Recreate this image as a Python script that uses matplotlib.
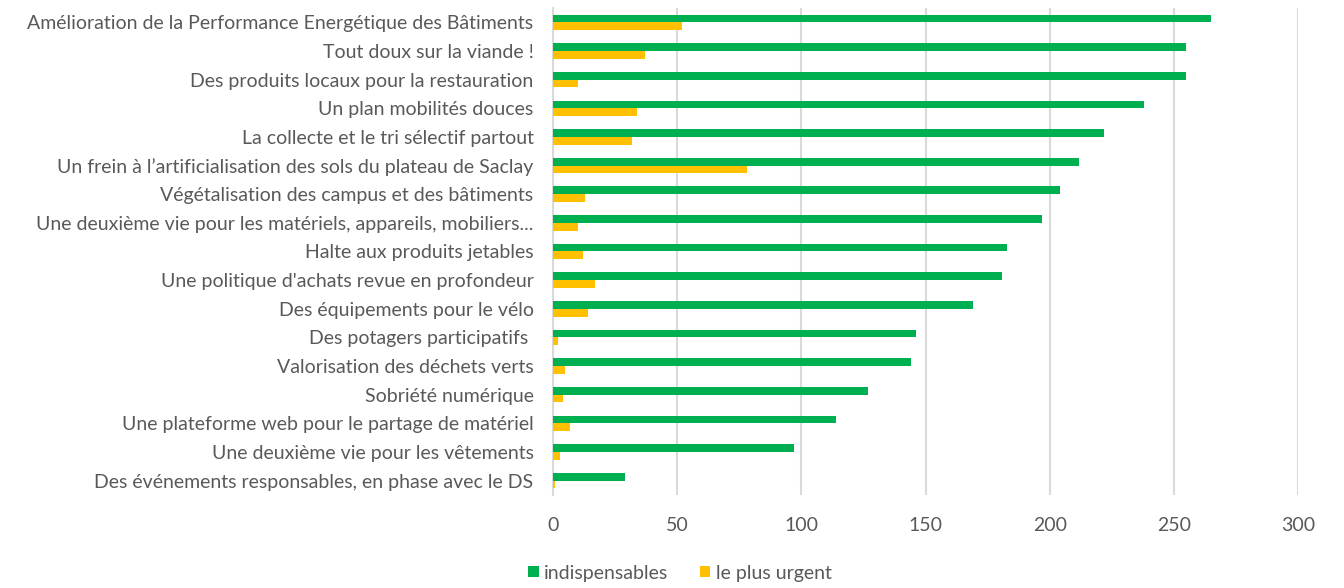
import numpy as np
import matplotlib.pyplot as plt

categories = [
    "Amélioration de la Performance Energétique des Bâtiments",
    "Tout doux sur la viande !",
    "Des produits locaux pour la restauration",
    "Un plan mobilités douces",
    "La collecte et le tri sélectif partout",
    "Un frein à l’artificialisation des sols du plateau de Saclay",
    "Végétalisation des campus et des bâtiments",
    "Une deuxième vie pour les matériels, appareils, mobiliers...",
    "Halte aux produits jetables",
    "Une politique d'achats revue en profondeur",
    "Des équipements pour le vélo",
    "Des potagers participatifs ",
    "Valorisation des déchets verts",
    "Sobriété numérique",
    "Une plateforme web pour le partage de matériel",
    "Une deuxième vie pour les vêtements",
    "Des événements responsables, en phase avec le DS",
]
indispensables = [265, 255, 255, 238, 222, 212, 204, 197, 183, 181, 169, 146, 144, 127, 114, 97, 29]
plus_urgent = [52, 37, 10, 34, 32, 78, 13, 10, 12, 17, 14, 2, 5, 4, 7, 3, 1]
xticks = [0, 50, 100, 150, 200, 250, 300]

plt.rcParams['font.family'] = ['Lato', 'DejaVu Sans']
txt = '#595959'

fig = plt.figure(figsize=(13.44, 5.88), dpi=100)
ax = fig.add_axes([553 / 1344, 1 - 495 / 588, 745 / 1344, 487 / 588])

y = np.arange(len(categories))
h = 0.27
ax.barh(y - h / 2, indispensables, height=h, color='#00B050', label='indispensables', zorder=3)
ax.barh(y + h / 2, plus_urgent, height=h, color='#FFC000', label='le plus urgent', zorder=3)

ax.set_ylim(len(categories) - 0.5, -0.5)
ax.set_xlim(0, 300)
ax.set_xticks(xticks)
ax.set_yticks(y)
ax.set_yticklabels(categories)
ax.tick_params(axis='both', length=0, labelsize=14, colors=txt)
ax.tick_params(axis='x', pad=16)
ax.tick_params(axis='y', pad=14)
ax.grid(axis='x', color='#d9d9d9', linewidth=1.5, zorder=0)
for s in ['top', 'right', 'bottom']:
    ax.spines[s].set_visible(False)
ax.spines['left'].set_color('#d9d9d9')
ax.spines['left'].set_linewidth(1.5)

leg = fig.legend(loc='center', bbox_to_anchor=(680 / 1344, 1 - 573 / 588), ncol=2, frameon=False,
                 fontsize=14, handlelength=0.55, handleheight=0.55, handletextpad=0.3, columnspacing=1.6)
for t in leg.get_texts():
    t.set_color(txt)

fig.savefig('out.png', dpi=100)
